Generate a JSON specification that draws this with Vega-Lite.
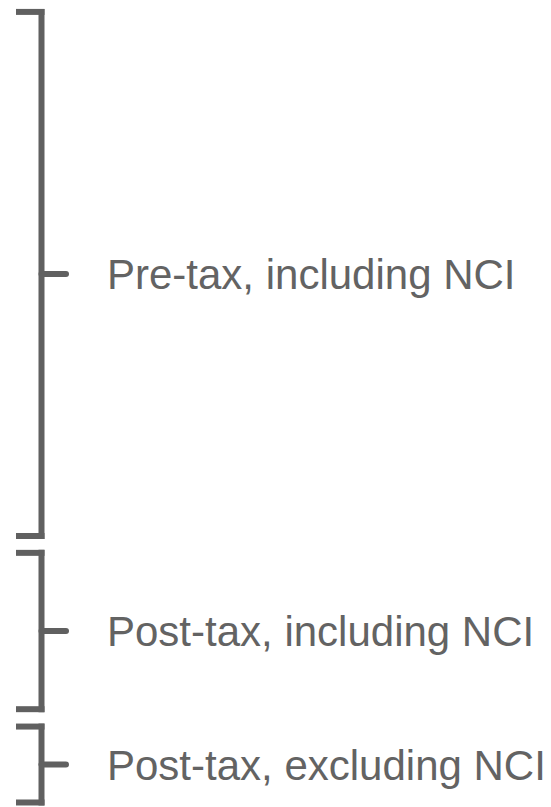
{
  "$schema": "https://vega.github.io/schema/vega-lite/v6.json",
  "width": 551,
  "height": 807,
  "padding": 0,
  "autosize": {"type": "fit", "contains": "padding"},
  "background": "white",
  "config": {"view": {"stroke": null}},
  "data": {
    "values": [
      {"label": "Pre-tax, including NCI", "top": 12, "bottom": 540},
      {"label": "Post-tax, including NCI", "top": 557, "bottom": 714.5},
      {"label": "Post-tax, excluding NCI", "top": 732, "bottom": 808.5}
    ]
  },
  "transform": [{"calculate": "(datum.top + datum.bottom) / 2", "as": "mid"}],
  "encoding": {},
  "layer": [
    {
      "mark": {"type": "rule", "stroke": "#606060", "strokeWidth": 6, "strokeCap": "square"},
      "encoding": {
        "x": {"datum": 41.5, "type": "quantitative", "scale": {"domain": [0, 551], "nice": false, "zero": false}, "axis": null},
        "y": {"field": "top", "type": "quantitative", "scale": {"domain": [0, 807], "nice": false, "zero": false, "reverse": true}, "axis": null},
        "y2": {"field": "bottom"}
      }
    },
    {
      "mark": {"type": "rule", "stroke": "#606060", "strokeWidth": 6, "strokeCap": "square"},
      "encoding": {
        "x": {"datum": 19, "type": "quantitative"},
        "x2": {"datum": 41.5},
        "y": {"field": "top", "type": "quantitative"}
      }
    },
    {
      "mark": {"type": "rule", "stroke": "#606060", "strokeWidth": 6, "strokeCap": "square"},
      "encoding": {
        "x": {"datum": 19, "type": "quantitative"},
        "x2": {"datum": 41.5},
        "y": {"field": "bottom", "type": "quantitative"}
      }
    },
    {
      "mark": {"type": "rule", "stroke": "#606060", "strokeWidth": 6, "strokeCap": "round"},
      "encoding": {
        "x": {"datum": 41.5, "type": "quantitative"},
        "x2": {"datum": 66},
        "y": {"field": "mid", "type": "quantitative"}
      }
    },
    {
      "mark": {"type": "text", "align": "left", "baseline": "alphabetic", "dy": 15, "fontSize": 42, "font": "Liberation Sans", "color": "#636363"},
      "encoding": {
        "x": {"datum": 107, "type": "quantitative"},
        "y": {"field": "mid", "type": "quantitative"},
        "text": {"field": "label"}
      }
    }
  ]
}
